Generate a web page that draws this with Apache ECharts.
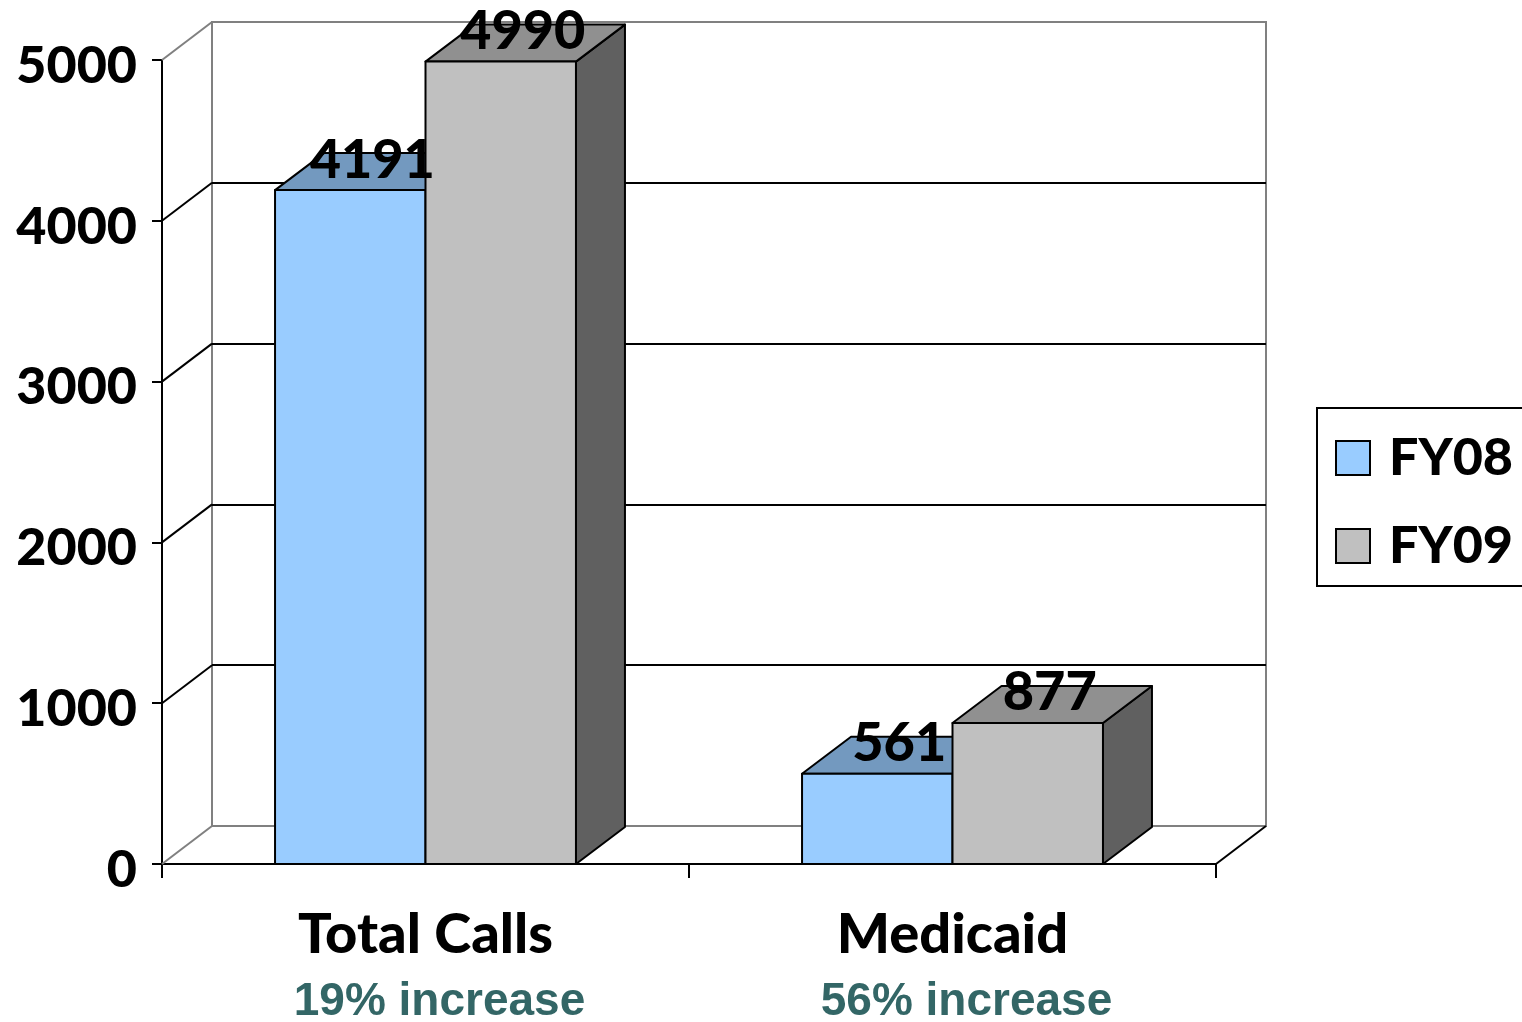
<!DOCTYPE html>
<html><head><meta charset="utf-8">
<script src="https://cdn.jsdelivr.net/npm/echarts@6/dist/echarts.min.js"></script>
<style>html,body{margin:0;padding:0;background:#fff}#c{width:1522px;height:1022px}</style>
</head><body><div id="c"></div>
<script>
// ---- data ----
const categories = ['Total Calls', 'Medicaid'];
const increaseNotes = ['19% increase', '56% increase'];
const seriesNames = ['FY08', 'FY09'];
const fy08 = [4191, 561];
const fy09 = [4990, 877];
const yTicks = [0, 1000, 2000, 3000, 4000, 5000];

// ---- style ----
const FONT = 'Lato';
const FW = 900;
const DX = 50, DY = 38;       // wall depth
const BDX = 49, BDY = 37;     // bar depth
const BAR_FRAC = 0.2855;
const frontCol = ['#99CCFF', '#C0C0C0'];
const topCol = ['#7399BF', '#909090'];
const sideCol = ['#4D6680', '#606060'];
const G = { left: 162, right: 306, top: 60, bottom: 158 };

function barRenderer(si) {
  return function (params, api) {
    const cat = api.value(0), val = api.value(1);
    const c = api.coord([cat, val]);
    const b = api.coord([cat, 0]);
    const band = api.size([1, 0])[0];
    const w = band * BAR_FRAC;
    const x1 = si === 0 ? c[0] - w : c[0];
    const x2 = x1 + w;
    const yt = c[1], yb = b[1];
    const ls = { stroke: '#000', lineWidth: 2, lineJoin: 'round' };
    return {
      type: 'group', children: [
        { type: 'polygon', shape: { points: [[x2, yt], [x2 + BDX, yt - BDY], [x2 + BDX, yb - BDY], [x2, yb]] }, style: Object.assign({ fill: sideCol[si] }, ls) },
        { type: 'polygon', shape: { points: [[x1, yt], [x1 + BDX, yt - BDY], [x2 + BDX, yt - BDY], [x2, yt]] }, style: Object.assign({ fill: topCol[si] }, ls) },
        { type: 'rect', shape: { x: x1, y: yt, width: w, height: yb - yt }, style: Object.assign({ fill: frontCol[si] }, ls) }
      ]
    };
  };
}

function labelRenderer(params, api) {
  const cat = api.value(0), val = api.value(1), si = api.value(2);
  const c = api.coord([cat, val]);
  const band = api.size([1, 0])[0];
  const w = band * BAR_FRAC;
  const cx = si === 0 ? c[0] - w / 2 : c[0] + w / 2;
  return {
    type: 'text',
    style: {
      x: cx + 22, y: c[1] - 30, text: String(val), align: 'center', verticalAlign: 'middle',
      fill: '#000', font: FW + ' 54px ' + FONT
    }
  };
}

function wallRenderer(params, api) {
  const v = api.value(0);
  const p = api.coord([0, v]);
  const cs = params.coordSys;
  const x0 = cs.x;
  const y = p[1];
  const grey = (v === yTicks[0] || v === yTicks[yTicks.length - 1]);
  const children = [{
    type: 'line', shape: { x1: x0, y1: y, x2: x0 + DX, y2: y - DY },
    style: { stroke: grey ? '#808080' : '#000', lineWidth: 2 }
  }];
  if (v === yTicks[0]) {
    children.push({
      type: 'line', shape: { x1: x0 + cs.width, y1: y, x2: x0 + cs.width + DX, y2: y - DY },
      style: { stroke: '#000', lineWidth: 2 }
    });
  }
  return { type: 'group', children: children };
}

const labelData = [];
fy08.forEach((v, i) => labelData.push([i, v, 0]));
fy09.forEach((v, i) => labelData.push([i, v, 1]));

const chart = echarts.init(document.getElementById('c'), null, { renderer: 'canvas' });
chart.setOption({
  animation: false,
  backgroundColor: '#fff',
  grid: [
    { left: G.left, right: G.right, top: G.top, bottom: G.bottom, outerBoundsMode: 'none' },
    { left: G.left + DX, right: G.right - DX, top: G.top - DY, bottom: G.bottom + DY, outerBoundsMode: 'none',
      show: true, borderColor: '#808080', borderWidth: 2, backgroundColor: 'transparent' }
  ],
  legend: {
    orient: 'vertical', left: 1317, top: 408,
    padding: [20, 40, 10, 18],
    borderColor: '#000', borderWidth: 2,
    itemWidth: 34, itemHeight: 34, itemGap: 28,
    icon: 'rect',
    textStyle: { fontFamily: FONT, fontWeight: FW, fontSize: 52, lineHeight: 60, color: '#000', padding: [0, 0, 0, 14] },
    data: seriesNames.map((n, i) => ({ name: n, itemStyle: { color: frontCol[i], borderColor: '#000', borderWidth: 2 } }))
  },
  xAxis: [
    {
      type: 'category', gridIndex: 0, data: categories,
      axisLine: { show: true, lineStyle: { color: '#000', width: 2 } },
      axisTick: { show: true, length: 14, lineStyle: { color: '#000', width: 2 } },
      axisLabel: {
        interval: 0, margin: 39,
        formatter: function (val, idx) { return '{a|' + val + '}\n{b|' + increaseNotes[idx] + '}'; },
        rich: {
          a: { fontFamily: FONT, fontWeight: FW, fontSize: 56, lineHeight: 64, color: '#000' },
          b: { fontFamily: '"Liberation Sans", Arial, sans-serif', fontWeight: 'bold', fontSize: 46, lineHeight: 70, color: '#336666', padding: [0, 0, 0, 28] }
        }
      }
    },
    { type: 'category', gridIndex: 1, data: categories, show: false }
  ],
  yAxis: [
    {
      type: 'value', gridIndex: 0, min: 0, max: 5000, interval: 1000,
      axisLine: { show: true, lineStyle: { color: '#000', width: 2 } },
      axisTick: { show: true, length: 10, lineStyle: { color: '#000', width: 2 } },
      splitLine: { show: false },
      axisLabel: { margin: 25,
        formatter: function (v) { return '{v|' + String(v) + '}'; },
        rich: { v: { fontFamily: FONT, fontWeight: FW, fontSize: 52, color: '#000', padding: [12, 0, 0, 0] } } }
    },
    {
      type: 'value', gridIndex: 1, min: 0, max: 5000, interval: 1000,
      axisLine: { show: false }, axisTick: { show: false }, axisLabel: { show: false },
      splitLine: { show: true, lineStyle: { color: ['#808080', '#000', '#000', '#000', '#000', '#808080'], width: 2 } }
    }
  ],
  series: [
    { type: 'custom', name: 'walls', xAxisIndex: 0, yAxisIndex: 0, renderItem: wallRenderer,
      data: yTicks.map(v => [v]), encode: { y: 0 }, z: 1, silent: true },
    { type: 'custom', name: seriesNames[0], xAxisIndex: 0, yAxisIndex: 0, renderItem: barRenderer(0),
      itemStyle: { color: frontCol[0] }, data: fy08.map((v, i) => [i, v]), encode: { x: 0, y: 1 }, z: 2 },
    { type: 'custom', name: seriesNames[1], xAxisIndex: 0, yAxisIndex: 0, renderItem: barRenderer(1),
      itemStyle: { color: frontCol[1] }, data: fy09.map((v, i) => [i, v]), encode: { x: 0, y: 1 }, z: 3 },
    { type: 'custom', name: 'labels', xAxisIndex: 0, yAxisIndex: 0, renderItem: labelRenderer,
      data: labelData, encode: { x: 0, y: 1 }, z: 4, silent: true }
  ]
});
</script></body></html>
